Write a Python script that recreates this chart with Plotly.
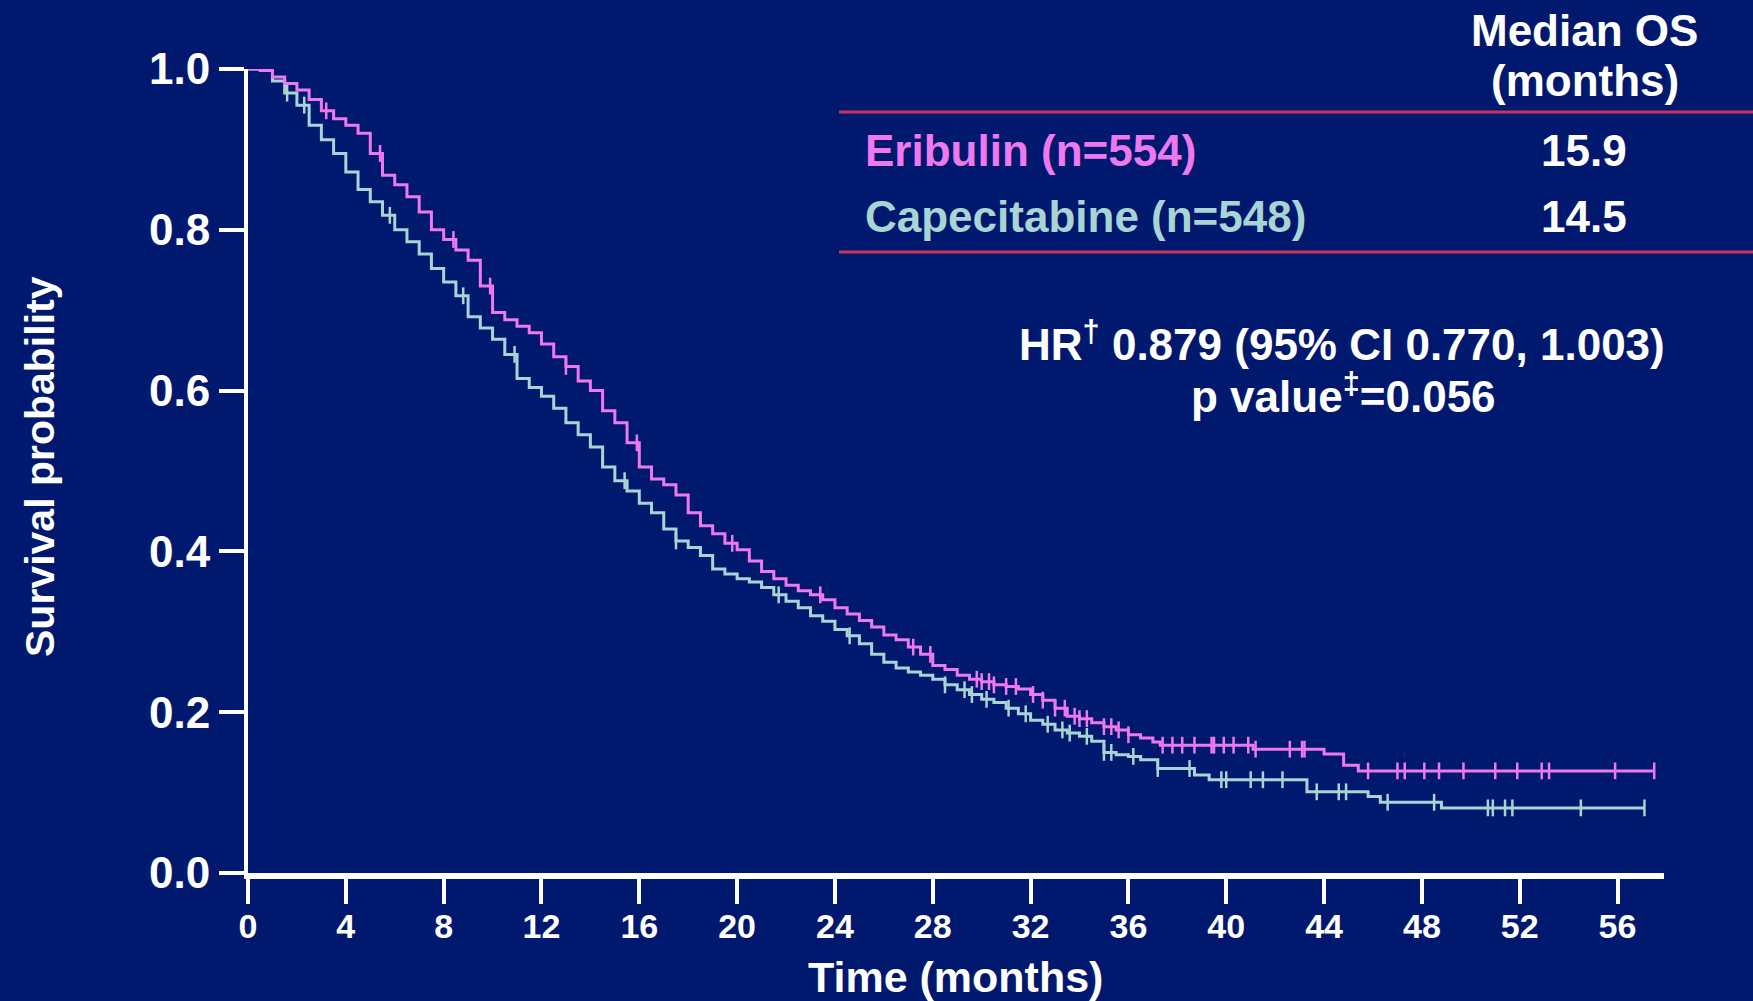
import plotly.graph_objects as go

# ---------------- data ----------------
eri_t = [0, 0.5, 1.0, 1.5, 2.0, 2.5, 3.0, 3.5, 4.0, 4.5, 5.0, 5.5, 6.0, 6.5, 7.0, 7.5, 8.0, 8.5,
         9.0, 9.5, 10.0, 10.5, 11.0, 11.5, 12.0, 12.5, 13.0, 13.5, 14.0, 14.5, 15.0, 15.5, 16.0,
         16.5, 17.0, 17.5, 18.0, 18.5, 19.0, 19.5, 20.0, 20.5, 21.0, 21.5, 22.0, 22.5, 23.0, 23.5,
         24.0, 24.5, 25.0, 25.5, 26.0, 26.5, 27.0, 27.5, 28.0, 28.5, 29.0, 29.5, 30.0, 30.5, 31.0,
         31.5, 32.0, 32.5, 33.0, 33.5, 34.0, 34.5, 35.0, 35.5, 36.0, 36.5, 37.0, 37.3, 41.1, 44.0,
         44.8, 45.4, 57.5]
eri_s = [1.000, 0.998, 0.990, 0.982, 0.974, 0.962, 0.948, 0.938, 0.930, 0.920, 0.895, 0.868,
         0.856, 0.841, 0.822, 0.800, 0.788, 0.775, 0.762, 0.730, 0.697, 0.688, 0.680, 0.672,
         0.658, 0.642, 0.630, 0.612, 0.600, 0.575, 0.560, 0.535, 0.505, 0.490, 0.483, 0.470,
         0.448, 0.432, 0.422, 0.410, 0.402, 0.388, 0.375, 0.366, 0.358, 0.351, 0.346, 0.340,
         0.330, 0.322, 0.314, 0.306, 0.296, 0.290, 0.281, 0.272, 0.258, 0.253, 0.246, 0.241,
         0.238, 0.234, 0.232, 0.229, 0.222, 0.215, 0.205, 0.195, 0.192, 0.187, 0.182, 0.178,
         0.172, 0.168, 0.163, 0.159, 0.154, 0.148, 0.134, 0.127, 0.127]

cap_t = [0, 0.5, 1.0, 1.5, 2.0, 2.5, 3.0, 3.5, 4.0, 4.5, 5.0, 5.5, 6.0, 6.5, 7.0, 7.5, 8.0, 8.5,
         9.0, 9.5, 10.0, 10.5, 11.0, 11.5, 12.0, 12.5, 13.0, 13.5, 14.0, 14.5, 15.0, 15.5, 16.0,
         16.5, 17.0, 17.5, 18.0, 18.5, 19.0, 19.5, 20.0, 20.5, 21.0, 21.5, 22.0, 22.5, 23.0, 23.5,
         24.0, 24.5, 25.0, 25.5, 26.0, 26.5, 27.0, 27.5, 28.0, 28.5, 29.0, 29.5, 30.0, 30.5, 31.0,
         31.5, 32.0, 32.5, 33.0, 33.5, 34.0, 34.5, 35.0, 35.5, 36.0, 36.5, 37.2, 38.7, 39.3, 43.3,
         45.8, 46.3, 48.8, 57.1]
cap_s = [1.000, 0.999, 0.985, 0.970, 0.955, 0.930, 0.912, 0.895, 0.872, 0.850, 0.835, 0.818,
         0.800, 0.785, 0.770, 0.752, 0.735, 0.718, 0.692, 0.678, 0.664, 0.645, 0.615, 0.604,
         0.593, 0.578, 0.560, 0.545, 0.530, 0.505, 0.488, 0.475, 0.460, 0.448, 0.428, 0.413,
         0.405, 0.395, 0.378, 0.372, 0.366, 0.362, 0.355, 0.346, 0.338, 0.330, 0.320, 0.313,
         0.303, 0.295, 0.285, 0.272, 0.262, 0.255, 0.250, 0.246, 0.241, 0.234, 0.228, 0.222,
         0.216, 0.212, 0.205, 0.198, 0.190, 0.185, 0.178, 0.174, 0.170, 0.164, 0.150, 0.147,
         0.145, 0.141, 0.130, 0.122, 0.116, 0.101, 0.095, 0.088, 0.081, 0.081]

eri_censor = [3.2, 5.4, 8.4, 9.9, 13.0, 15.9, 19.8, 23.4, 27.2, 27.9, 29.8, 30.0, 30.3, 30.5,
              31.0, 31.4, 32.1, 32.5, 33.0, 33.4, 33.8, 34.0, 34.3, 35.0, 35.3, 35.6, 36.0,
              37.4, 37.8, 38.2, 38.7, 39.4, 39.5, 39.9, 40.3, 40.9, 41.2, 42.6, 43.1, 43.2,
              45.8, 47.0, 47.3, 48.1, 48.7, 49.7, 51.0, 51.9, 52.9, 53.2, 55.9, 57.5]
cap_censor = [1.6, 2.3, 5.8, 8.8, 10.9, 15.4, 17.5, 21.7, 24.6, 28.5, 29.3, 29.6, 30.2, 31.1,
              31.8, 32.7, 33.3, 33.6, 34.3, 35.0, 35.3, 36.2, 37.2, 38.5, 39.8, 40.0, 41.0,
              41.5, 42.3, 43.7, 44.6, 44.9, 46.6, 48.5, 50.7, 50.9, 51.4, 51.7, 54.5, 57.1]

groups = ["Eribulin (n=554)", "Capecitabine (n=548)"]
median_os = ["15.9", "14.5"]
x_ticks = list(range(0, 57, 4))
y_ticks = [0.0, 0.2, 0.4, 0.6, 0.8, 1.0]
hr_text = "HR<sup>†</sup> 0.879 (95% CI 0.770, 1.003)"
p_text = "p value<sup>‡</sup>=0.056"

# ---------------- style ----------------
BG = "#00186e"
ERI = "#ee78ee"
CAP = "#a8d4d4"
RED = "#c8365e"
FONT = "Liberation Sans, Arial, sans-serif"

W, H = 1753, 1001
L, R, T, B = 248, 89, 69, 128
PW, PH = W - L - R, H - T - B


def px(x):
    return (x - L) / PW


def py(y):
    return (H - B - y) / PH


def step_at(ts, ss, t):
    v = ss[0]
    for ti, si in zip(ts, ss):
        if ti <= t:
            v = si
    return v


fig = go.Figure()
for ts, ss, cens, col, name in [(cap_t, cap_s, cap_censor, CAP, groups[1]),
                                (eri_t, eri_s, eri_censor, ERI, groups[0])]:
    fig.add_trace(go.Scatter(x=ts, y=ss, mode="lines", line=dict(color=col, width=3, shape="hv"),
                             name=name, showlegend=False, hoverinfo="skip"))
    fig.add_trace(go.Scatter(x=cens, y=[step_at(ts, ss, c) for c in cens], mode="markers",
                             marker=dict(symbol="line-ns", size=12, line=dict(color=col, width=2.5)),
                             showlegend=False, hoverinfo="skip"))

fig.update_layout(
    width=W, height=H,
    margin=dict(l=L, r=R, t=T, b=B),
    paper_bgcolor=BG, plot_bgcolor=BG,
    font=dict(family=FONT, color="white"),
    xaxis=dict(range=[0, 57.9], tickvals=x_ticks, ticktext=[str(v) for v in x_ticks],
               showgrid=False, zeroline=False, showline=True, linecolor="white", linewidth=6,
               ticks="outside", ticklen=25, tickwidth=4, tickcolor="white",
               ticklabelstandoff=-7,
               tickfont=dict(family=FONT, size=34, color="white", weight="bold")),
    yaxis=dict(range=[0, 1.0], tickvals=y_ticks, ticktext=[f"{v:.1f}" for v in y_ticks],
               showgrid=False, zeroline=False, showline=True, linecolor="white", linewidth=4,
               ticks="outside", ticklen=25, tickwidth=4, tickcolor="white",
               tickfont=dict(family=FONT, size=44, color="white", weight="bold")),
)

ann = []


def add_text(text, x, y, size=44, color="white", xanchor="center", angle=0):
    ann.append(dict(text=text, x=px(x), y=py(y), xref="paper", yref="paper", showarrow=False,
                    xanchor=xanchor, yanchor="middle", textangle=angle,
                    font=dict(family=FONT, size=size, color=color, weight="bold")))


add_text("Survival probability", 40, 467, size=41, angle=-90)
add_text("Time (months)", 955, 977, size=43)
add_text("Median OS", 1584, 30)
add_text("(months)", 1585, 80)
add_text(groups[0], 863, 150, color=ERI, xanchor="left")
add_text(groups[1], 863, 216, color=CAP, xanchor="left")
add_text(median_os[0], 1584, 150)
add_text(median_os[1], 1584, 216)
add_text(hr_text, 1342, 341)
add_text(p_text, 1343, 394)
fig.update_layout(annotations=ann)

for yline in (112, 252):
    fig.add_shape(type="line", xref="paper", yref="paper", x0=px(839), x1=px(1753),
                  y0=py(yline), y1=py(yline), line=dict(color=RED, width=3))

fig.write_html("out.html")
